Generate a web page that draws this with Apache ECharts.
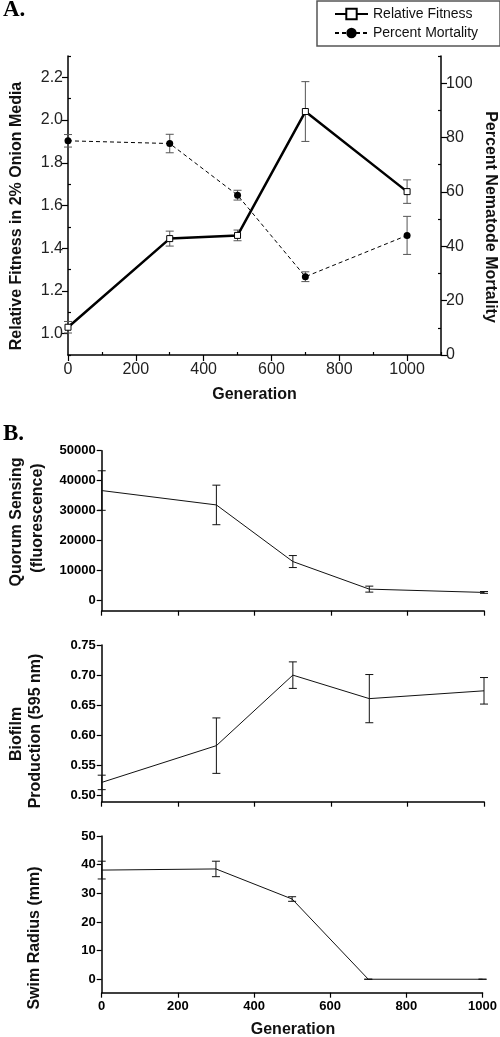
<!DOCTYPE html>
<html>
<head>
<meta charset="utf-8">
<script src="https://cdn.jsdelivr.net/npm/echarts@6/dist/echarts.min.js"></script>
<style>html,body{margin:0;padding:0;background:#fff}#c{width:500px;height:1037px}</style>
</head>
<body>
<div id="c"></div>
<script>
// ---- data ----
const generations = [0, 300, 500, 700, 1000];
const fitness = [1.03, 1.445, 1.46, 2.04, 1.665];
const fitnessErr = [0.027, 0.035, 0.025, 0.14, 0.055];
const mortality = [78.8, 77.8, 58.8, 28.8, 44.0];
const mortalityErr = [2.3, 3.4, 1.8, 1.8, 7.0];
const quorum = [36700, 31900, 13000, 3800, 2700];
const quorumErr = [6600, 6600, 2000, 1000, 300];
const biofilm = [0.522, 0.583, 0.700, 0.661, 0.674];
const biofilmErr = [0.012, 0.046, 0.022, 0.040, 0.022];
const swim = [38.1, 38.5, 28.0, 0, 0];
const swimErr = [3.1, 2.7, 0.8, 0, 0];

const xMajorA = [0, 200, 400, 600, 800, 1000];
const xMinorA = [100, 300, 500, 700, 900, 1100];
const yLeftMajor = [1.0, 1.2, 1.4, 1.6, 1.8, 2.0, 2.2];
const yLeftMinor = [0.9, 1.1, 1.3, 1.5, 1.7, 1.9, 2.1, 2.3];
const yRightMajor = [0, 20, 40, 60, 80, 100];
const yRightMinor = [10, 30, 50, 70, 90, 110];
const quorumTicks = [0, 10000, 20000, 30000, 40000, 50000];
const biofilmTicks = [0.50, 0.55, 0.60, 0.65, 0.70, 0.75];
const swimTicks = [0, 10, 20, 30, 40, 50];

const F = "'Liberation Sans', Arial, sans-serif";

function pairs(ys) { return generations.map((g, i) => [g, ys[i]]); }
function errData(ys, es) { return generations.map((g, i) => [g, ys[i] - es[i], ys[i] + es[i]]); }
function errRender(color, cap) {
  return function (params, api) {
    const x = api.value(0), lo = api.value(1), hi = api.value(2);
    const a = api.coord([x, lo]), b = api.coord([x, hi]);
    const st = { stroke: color, lineWidth: 1 };
    return { type: 'group', children: [
      { type: 'line', shape: { x1: a[0], y1: a[1], x2: b[0], y2: b[1] }, style: st },
      { type: 'line', shape: { x1: a[0] - cap, y1: a[1], x2: a[0] + cap, y2: a[1] }, style: st },
      { type: 'line', shape: { x1: b[0] - cap, y1: b[1], x2: b[0] + cap, y2: b[1] }, style: st }
    ]};
  };
}

const axLine = { onZero: false, lineStyle: { color: '#000', width: 1.5 } };
function fmt(d) { return v => Number(v).toFixed(d); }

const chart = echarts.init(document.getElementById('c'), null, { renderer: 'canvas' });

const option = {
  animation: false,
  backgroundColor: '#fff',
  grid: [
    { left: 68, top: 56, width: 373, height: 299 },
    { left: 101.7, top: 450.7, width: 382.3, height: 160 },
    { left: 101.7, top: 645, width: 382.3, height: 156.7 },
    { left: 101.7, top: 836, width: 382.3, height: 156.7 }
  ],
  legend: {
    data: ['Relative Fitness', 'Percent Mortality'],
    orient: 'vertical', left: 317, top: 1,
    padding: [6, 22, 6, 17], itemGap: 5, itemWidth: 33, itemHeight: 13,
    borderColor: '#555', borderWidth: 1.5,
    textStyle: { fontFamily: F, fontSize: 14, color: '#111' }
  },
  xAxis: [
    { gridIndex: 0, type: 'value', min: 0, max: 1100, position: 'bottom',
      axisLine: axLine, splitLine: { show: false },
      axisTick: { length: 6, lineStyle: { width: 1.2 }, customValues: xMajorA },
      axisLabel: { customValues: xMajorA, formatter: fmt(0), fontFamily: F, fontSize: 16, color: '#222', margin: 7 } },
    { gridIndex: 0, type: 'value', min: 0, max: 1100, position: 'bottom',
      axisLine: { show: false, onZero: false }, splitLine: { show: false },
      axisTick: { length: 3, inside: true, lineStyle: { color: '#000', width: 1.2 }, customValues: xMinorA },
      axisLabel: { show: false } },
    { gridIndex: 1, type: 'value', min: 0, max: 1000, interval: 200,
      axisLine: axLine, splitLine: { show: false },
      axisTick: { length: 5, lineStyle: { width: 1.2 } }, axisLabel: { show: false } },
    { gridIndex: 2, type: 'value', min: 0, max: 1000, interval: 200,
      axisLine: axLine, splitLine: { show: false },
      axisTick: { length: 5, lineStyle: { width: 1.2 } }, axisLabel: { show: false } },
    { gridIndex: 3, type: 'value', min: 0, max: 1000, interval: 200,
      axisLine: axLine, splitLine: { show: false },
      axisTick: { length: 5, lineStyle: { width: 1.2 } },
      axisLabel: { formatter: fmt(0), fontFamily: F, fontSize: 13, fontWeight: 'bold', color: '#000', margin: 7 } }
  ],
  yAxis: [
    { gridIndex: 0, type: 'value', min: 0.9, max: 2.3, position: 'left',
      axisLine: axLine, splitLine: { show: false },
      axisTick: { length: 6, lineStyle: { width: 1.2 }, customValues: yLeftMajor },
      axisLabel: { customValues: yLeftMajor, formatter: fmt(1), fontFamily: F, fontSize: 16, color: '#222', margin: 5 } },
    { gridIndex: 0, type: 'value', min: 0, max: 110, position: 'right',
      axisLine: axLine, splitLine: { show: false },
      axisTick: { length: 6, lineStyle: { width: 1.2 }, customValues: yRightMajor },
      axisLabel: { customValues: yRightMajor, formatter: fmt(0), fontFamily: F, fontSize: 16, color: '#222', margin: 5 } },
    { gridIndex: 0, type: 'value', min: 0.9, max: 2.3, position: 'left',
      axisLine: { show: false, onZero: false }, splitLine: { show: false },
      axisTick: { length: 3, inside: true, lineStyle: { color: '#000', width: 1.2 }, customValues: yLeftMinor },
      axisLabel: { show: false } },
    { gridIndex: 0, type: 'value', min: 0, max: 110, position: 'right',
      axisLine: { show: false, onZero: false }, splitLine: { show: false },
      axisTick: { length: 3, inside: true, lineStyle: { color: '#000', width: 1.2 }, customValues: yRightMinor },
      axisLabel: { show: false } },
    { gridIndex: 1, type: 'value', min: -3400, max: 50000,
      axisLine: axLine, splitLine: { show: false },
      axisTick: { length: 5, lineStyle: { width: 1.2 }, customValues: quorumTicks },
      axisLabel: { customValues: quorumTicks, formatter: fmt(0), fontFamily: F, fontSize: 13, fontWeight: 'bold', color: '#000', margin: 6 } },
    { gridIndex: 2, type: 'value', min: 0.49, max: 0.75,
      axisLine: axLine, splitLine: { show: false },
      axisTick: { length: 5, lineStyle: { width: 1.2 }, customValues: biofilmTicks },
      axisLabel: { customValues: biofilmTicks, formatter: fmt(2), fontFamily: F, fontSize: 13, fontWeight: 'bold', color: '#000', margin: 6 } },
    { gridIndex: 3, type: 'value', min: -4.7, max: 50,
      axisLine: axLine, splitLine: { show: false },
      axisTick: { length: 5, lineStyle: { width: 1.2 }, customValues: swimTicks },
      axisLabel: { customValues: swimTicks, formatter: fmt(0), fontFamily: F, fontSize: 13, fontWeight: 'bold', color: '#000', margin: 6 } }
  ],
  series: [
    { type: 'custom', name: 'fitErr', xAxisIndex: 0, yAxisIndex: 0, data: errData(fitness, fitnessErr),
      renderItem: errRender('#555', 4), z: 3 },
    { type: 'custom', name: 'mortErr', xAxisIndex: 0, yAxisIndex: 1, data: errData(mortality, mortalityErr),
      renderItem: errRender('#555', 4), z: 3 },
    { type: 'line', name: 'Percent Mortality', xAxisIndex: 0, yAxisIndex: 1, data: pairs(mortality),
      symbol: 'circle', symbolSize: 7, lineStyle: { color: '#000', width: 1, type: [4, 3] },
      itemStyle: { color: '#000' }, z: 4 },
    { type: 'line', name: 'Relative Fitness', xAxisIndex: 0, yAxisIndex: 0, data: pairs(fitness),
      symbol: 'rect', symbolSize: 6, lineStyle: { color: '#000', width: 2.5 },
      itemStyle: { color: '#fff', borderColor: '#000', borderWidth: 1 }, z: 5 },
    { type: 'line', name: 'Quorum', xAxisIndex: 2, yAxisIndex: 4, data: pairs(quorum),
      symbol: 'none', lineStyle: { color: '#111', width: 1 } },
    { type: 'custom', name: 'qErr', xAxisIndex: 2, yAxisIndex: 4, data: errData(quorum, quorumErr),
      renderItem: errRender('#111', 4) },
    { type: 'line', name: 'Biofilm', xAxisIndex: 3, yAxisIndex: 5, data: pairs(biofilm),
      symbol: 'none', lineStyle: { color: '#111', width: 1 } },
    { type: 'custom', name: 'bErr', xAxisIndex: 3, yAxisIndex: 5, data: errData(biofilm, biofilmErr),
      renderItem: errRender('#111', 4) },
    { type: 'line', name: 'Swim', xAxisIndex: 4, yAxisIndex: 6, data: pairs(swim),
      symbol: 'none', lineStyle: { color: '#111', width: 1 } },
    { type: 'custom', name: 'sErr', xAxisIndex: 4, yAxisIndex: 6, data: errData(swim, swimErr),
      renderItem: errRender('#111', 4) }
  ],
  graphic: [
    { type: 'text', x: 3, y: 22, style: { text: 'A.', fontFamily: "'Liberation Serif', 'Times New Roman', serif", fontSize: 23, fontWeight: 'bold', fill: '#000', textVerticalAlign: 'bottom' } },
    { type: 'text', x: 3, y: 446, style: { text: 'B.', fontFamily: "'Liberation Serif', 'Times New Roman', serif", fontSize: 23, fontWeight: 'bold', fill: '#000', textVerticalAlign: 'bottom' } },
    { type: 'text', x: 17, y: 216, rotation: Math.PI / 2, style: { text: 'Relative Fitness in 2% Onion Media', fontFamily: F, fontSize: 16, fontWeight: 'bold', fill: '#111', textAlign: 'center', textVerticalAlign: 'middle' } },
    { type: 'text', x: 490, y: 217, rotation: -Math.PI / 2, style: { text: 'Percent Nematode Mortality', fontFamily: F, fontSize: 16, fontWeight: 'bold', fill: '#111', textAlign: 'center', textVerticalAlign: 'middle' } },
    { type: 'text', x: 254.5, y: 395, style: { text: 'Generation', fontFamily: F, fontSize: 16, fontWeight: 'bold', fill: '#111', textAlign: 'center', textVerticalAlign: 'middle' } },
    { type: 'text', x: 17, y: 522, rotation: Math.PI / 2, style: { text: 'Quorum Sensing', fontFamily: F, fontSize: 16, fontWeight: 'bold', fill: '#111', textAlign: 'center', textVerticalAlign: 'middle' } },
    { type: 'text', x: 38, y: 518, rotation: Math.PI / 2, style: { text: '(fluorescence)', fontFamily: F, fontSize: 16, fontWeight: 'bold', fill: '#111', textAlign: 'center', textVerticalAlign: 'middle' } },
    { type: 'text', x: 17, y: 734, rotation: Math.PI / 2, style: { text: 'Biofilm', fontFamily: F, fontSize: 16, fontWeight: 'bold', fill: '#111', textAlign: 'center', textVerticalAlign: 'middle' } },
    { type: 'text', x: 36, y: 731, rotation: Math.PI / 2, style: { text: 'Production (595 nm)', fontFamily: F, fontSize: 16, fontWeight: 'bold', fill: '#111', textAlign: 'center', textVerticalAlign: 'middle' } },
    { type: 'text', x: 35, y: 938, rotation: Math.PI / 2, style: { text: 'Swim Radius (mm)', fontFamily: F, fontSize: 16, fontWeight: 'bold', fill: '#111', textAlign: 'center', textVerticalAlign: 'middle' } },
    { type: 'text', x: 293, y: 1030, style: { text: 'Generation', fontFamily: F, fontSize: 16, fontWeight: 'bold', fill: '#111', textAlign: 'center', textVerticalAlign: 'middle' } }
  ]
};
chart.setOption(option);
</script>
</body>
</html>
